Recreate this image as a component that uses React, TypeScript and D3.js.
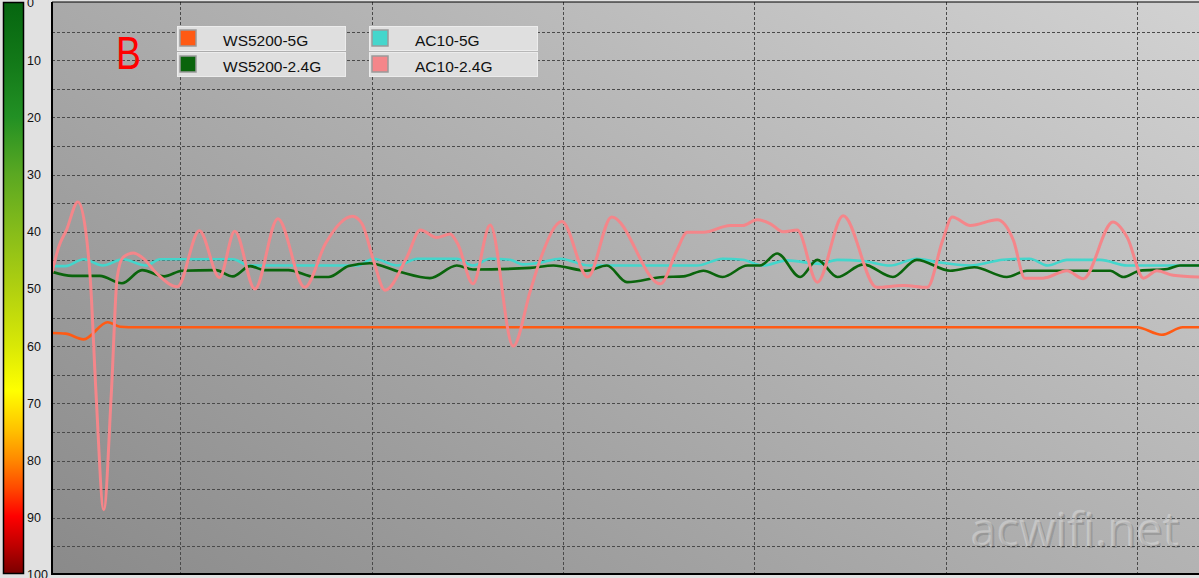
import React from 'react';
import * as d3 from 'd3';

// ---------- data ----------
const valueTicks = [0, 10, 20, 30, 40, 50, 60, 70, 80, 90, 100];
const gridValues = [5, 10, 15, 20, 25, 30, 35, 40, 45, 50, 55, 60, 65, 70, 75, 80, 85, 90, 95];
const timeTicks = [20, 40, 60, 80, 100, 120];
const timeDomain: [number, number] = [6.59, 126.5];

const seriesNames = ['WS5200-5G', 'WS5200-2.4G', 'AC10-5G', 'AC10-2.4G'];
const seriesColors = ['#ff5a14', '#0a640c', '#44d6cc', '#f4868a'];

const ws5200_5g: [number, number][] = [
  [6.6, 57.7], [8.0, 57.8], [9.9, 58.8], [12.4, 55.8], [13.7, 56.6], [15.5, 56.7],
  [120.0, 56.7], [122.6, 58.0], [124.8, 56.7], [126.5, 56.7],
];

const ws5200_24g: [number, number][] = [
  [6.6, 47.0], [8.7, 47.7], [11.6, 47.7], [13.9, 49.0], [16.0, 46.7], [18.3, 47.8],
  [20.2, 46.8], [23.7, 46.7], [25.5, 47.8], [27.3, 46.0], [28.8, 46.7], [31.3, 46.7],
  [34.1, 47.9], [35.5, 47.9], [37.6, 46.0], [39.8, 45.5], [42.9, 47.0], [46.1, 48.1],
  [48.9, 45.9], [50.6, 46.6], [56.6, 46.3], [59.0, 45.9], [62.5, 46.8], [64.6, 45.9],
  [66.7, 48.8], [70.5, 47.9], [72.6, 47.8], [74.7, 46.8], [76.7, 47.9], [79.3, 45.9],
  [80.6, 45.9], [82.4, 43.8], [84.8, 47.9], [86.6, 44.9], [88.7, 47.9], [91.4, 45.7],
  [94.5, 47.9], [97.0, 44.9], [100.5, 46.8], [103.0, 46.2], [106.4, 47.9], [108.5, 46.8],
  [117.2, 46.8], [118.6, 47.9], [120.3, 46.8], [123.2, 46.5], [124.5, 45.9], [126.5, 45.9],
];

const ac10_5g: [number, number][] = [
  [6.6, 46.0], [8.0, 46.0], [9.9, 44.8], [11.9, 45.9], [14.0, 44.8], [16.4, 45.9],
  [17.9, 44.8], [25.5, 44.8], [27.2, 45.9], [38.5, 45.9], [40.2, 44.7], [42.7, 45.9],
  [44.8, 44.7], [48.9, 44.7], [50.6, 45.9], [52.4, 44.7], [54.5, 44.9], [55.8, 45.7],
  [57.6, 45.4], [59.7, 44.7], [62.8, 45.9], [74.0, 45.9], [76.7, 44.7], [78.8, 44.9],
  [80.9, 45.9], [83.4, 45.0], [86.9, 45.6], [88.7, 44.9], [91.4, 45.1], [94.2, 45.9],
  [97.0, 44.7], [99.1, 45.3], [102.6, 45.9], [106.0, 44.9], [108.8, 44.7], [110.7, 45.9],
  [112.7, 44.9], [116.2, 44.9], [119.0, 45.9], [126.5, 45.9],
];

const ac10_24g: [number, number][] = [
  [6.6, 47.0], [7.3, 42.6], [8.1, 39.7], [9.3, 34.8], [10.1, 39.7], [10.6, 48.4],
  [11.2, 68.5], [12.0, 88.6], [12.8, 68.0], [13.4, 48.0], [14.0, 44.5], [15.1, 43.7],
  [16.1, 44.6], [17.5, 47.2], [19.7, 49.6], [22.0, 39.8], [24.1, 48.0], [25.7, 39.9],
  [27.8, 50.0], [30.2, 37.7], [33.0, 49.7], [35.2, 42.0], [36.7, 38.5], [38.0, 37.3],
  [39.0, 38.6], [40.2, 45.0], [41.4, 50.2], [43.7, 44.4], [45.1, 39.7], [46.8, 41.0],
  [48.2, 40.4], [49.0, 42.1], [50.6, 49.1], [52.4, 38.8], [54.8, 60.0], [56.6, 50.3],
  [57.6, 45.0], [59.9, 38.2], [62.6, 47.9], [65.1, 37.4], [70.2, 49.1], [71.9, 43.3],
  [73.0, 40.1], [74.7, 40.1], [77.5, 38.9], [78.8, 38.9], [80.3, 37.9], [81.7, 38.6],
  [83.0, 40.0], [84.5, 39.7], [86.6, 48.8], [89.3, 37.2], [92.8, 49.7], [95.6, 49.4],
  [98.1, 49.7], [99.7, 41.5], [100.7, 37.4], [102.6, 38.9], [105.4, 37.9], [107.1, 41.5],
  [108.3, 48.1], [110.2, 48.1], [112.7, 46.8], [114.4, 48.2], [117.5, 38.3], [119.0, 41.0],
  [120.7, 48.1], [122.1, 46.8], [123.8, 47.6], [126.5, 47.9],
];

const seriesData = [ws5200_5g, ws5200_24g, ac10_5g, ac10_24g];
const drawOrder = [0, 2, 1, 3];

const barStops: [number, string][] = [
  [0, '#066610'], [10, '#127818'], [20, '#229024'], [30, '#5aa822'], [40, '#86bc1a'],
  [50, '#b0d010'], [60, '#d8e806'], [68, '#ffff00'], [75, '#ffc000'], [80, '#ff8a00'],
  [85, '#ff4a00'], [90, '#ff0000'], [95, '#c00000'], [100, '#7a0000'],
];

// ---------- component ----------
export default function App() {
  React.useEffect(() => {
    document.body.style.margin = '0';
  }, []);

  const W = 1199;
  const H = 578;
  const left = 52;
  const top = 2;
  const bottom = 574;

  const x = d3.scaleLinear().domain(timeDomain).range([left, W]);
  const y = d3.scaleLinear().domain([0, 100]).range([3, 575]);
  const line = d3
    .line<[number, number]>()
    .x((d) => x(d[0]))
    .y((d) => y(d[1]))
    .curve(d3.curveMonotoneX);

  const font = "'Liberation Sans', Arial, sans-serif";

  const legend = [
    { idx: 0, bx: 177, by: 26, tx: 223 },
    { idx: 1, bx: 177, by: 52, tx: 223 },
    { idx: 2, bx: 369, by: 26, tx: 415 },
    { idx: 3, bx: 369, by: 52, tx: 415 },
  ];

  return (
    <svg
      width={W}
      height={H}
      style={{ position: 'absolute', left: 0, top: 0, display: 'block' }}
      xmlns="http://www.w3.org/2000/svg"
    >
      <defs>
        <linearGradient id="bar" x1="0" y1="0" x2="0" y2="1">
          {barStops.map(([v, c]) => (
            <stop key={v} offset={`${v}%`} stopColor={c} />
          ))}
        </linearGradient>
        <linearGradient id="plotbg" gradientUnits="userSpaceOnUse" x1={52} y1={574} x2={650} y2={-352}>
          <stop offset="0" stopColor="#8a8a8a" />
          <stop offset="1" stopColor="#d2d2d2" />
        </linearGradient>
        <clipPath id="plotclip">
          <rect x={left} y={top} width={W - left} height={bottom - top} />
        </clipPath>
      </defs>

      <rect x={0} y={0} width={W} height={H} fill="#e1e1e1" />

      {/* colour bar */}
      <rect x={3.5} y={2.5} width={20} height={571} fill="url(#bar)" stroke="#000" strokeWidth={1.5} />
      {valueTicks.map((v) => (
        <text
          key={v}
          x={27}
          y={y(v)}
          dy="0.35em"
          fontSize={12.5}
          fontFamily={font}
          fill="#111"
        >
          {v}
        </text>
      ))}

      {/* plot area */}
      <rect x={left} y={top} width={W - left} height={bottom - top} fill="url(#plotbg)" />
      <g clipPath="url(#plotclip)">
        {gridValues.map((v) => (
          <line
            key={'h' + v}
            x1={left}
            x2={W}
            y1={Math.round(y(v)) + 0.5}
            y2={Math.round(y(v)) + 0.5}
            stroke="#4a4a4a"
            strokeWidth={1}
            strokeDasharray="3,2"
          />
        ))}
        {timeTicks.map((t) => (
          <line
            key={'v' + t}
            x1={Math.round(x(t)) + 0.5}
            x2={Math.round(x(t)) + 0.5}
            y1={top}
            y2={bottom}
            stroke="#4a4a4a"
            strokeWidth={1}
            strokeDasharray="3,2"
          />
        ))}

        {/* watermark */}
        <text x={972} y={548} fontSize={47} fontFamily="'Open Sans', sans-serif" fill="rgba(0,0,0,0.13)">
          acwifi.net
        </text>
        <text x={970} y={546} fontSize={47} fontFamily="'Open Sans', sans-serif" fill="rgba(255,255,255,0.28)">
          acwifi.net
        </text>

        {drawOrder.map((i) => (
          <path
            key={seriesNames[i]}
            d={line(seriesData[i]) || ''}
            fill="none"
            stroke={seriesColors[i]}
            strokeWidth={i === 3 ? 3 : 2.6}
            strokeLinejoin="round"
            strokeLinecap="round"
          />
        ))}
      </g>
      <line x1={left} x2={left} y1={top} y2={bottom + 1} stroke="#000" strokeWidth={2} />
      <line x1={left} x2={W} y1={top} y2={top} stroke="#000" strokeWidth={1} />
      <line x1={left} x2={W} y1={bottom} y2={bottom} stroke="#000" strokeWidth={2} />

      {/* big label */}
      <text x={116} y={69} fontSize={46} fontFamily={font} fill="#ff0000" textLength={25} lengthAdjust="spacingAndGlyphs">
        B
      </text>

      {/* legend */}
      {legend.map((l) => (
        <g key={seriesNames[l.idx]}>
          <rect x={l.bx + 0.5} y={l.by + 0.5} width={168} height={24} fill="#dfdfdf" stroke="#ececec" strokeWidth={1} />
          <rect x={l.bx + 3} y={l.by + 4} width={16} height={16} fill={seriesColors[l.idx]} stroke="#9a9a9a" strokeWidth={1.5} />
          <text x={l.tx} y={l.by + 20} fontSize={15.5} fontFamily={font} fill="#111">
            {seriesNames[l.idx]}
          </text>
        </g>
      ))}
    </svg>
  );
}
